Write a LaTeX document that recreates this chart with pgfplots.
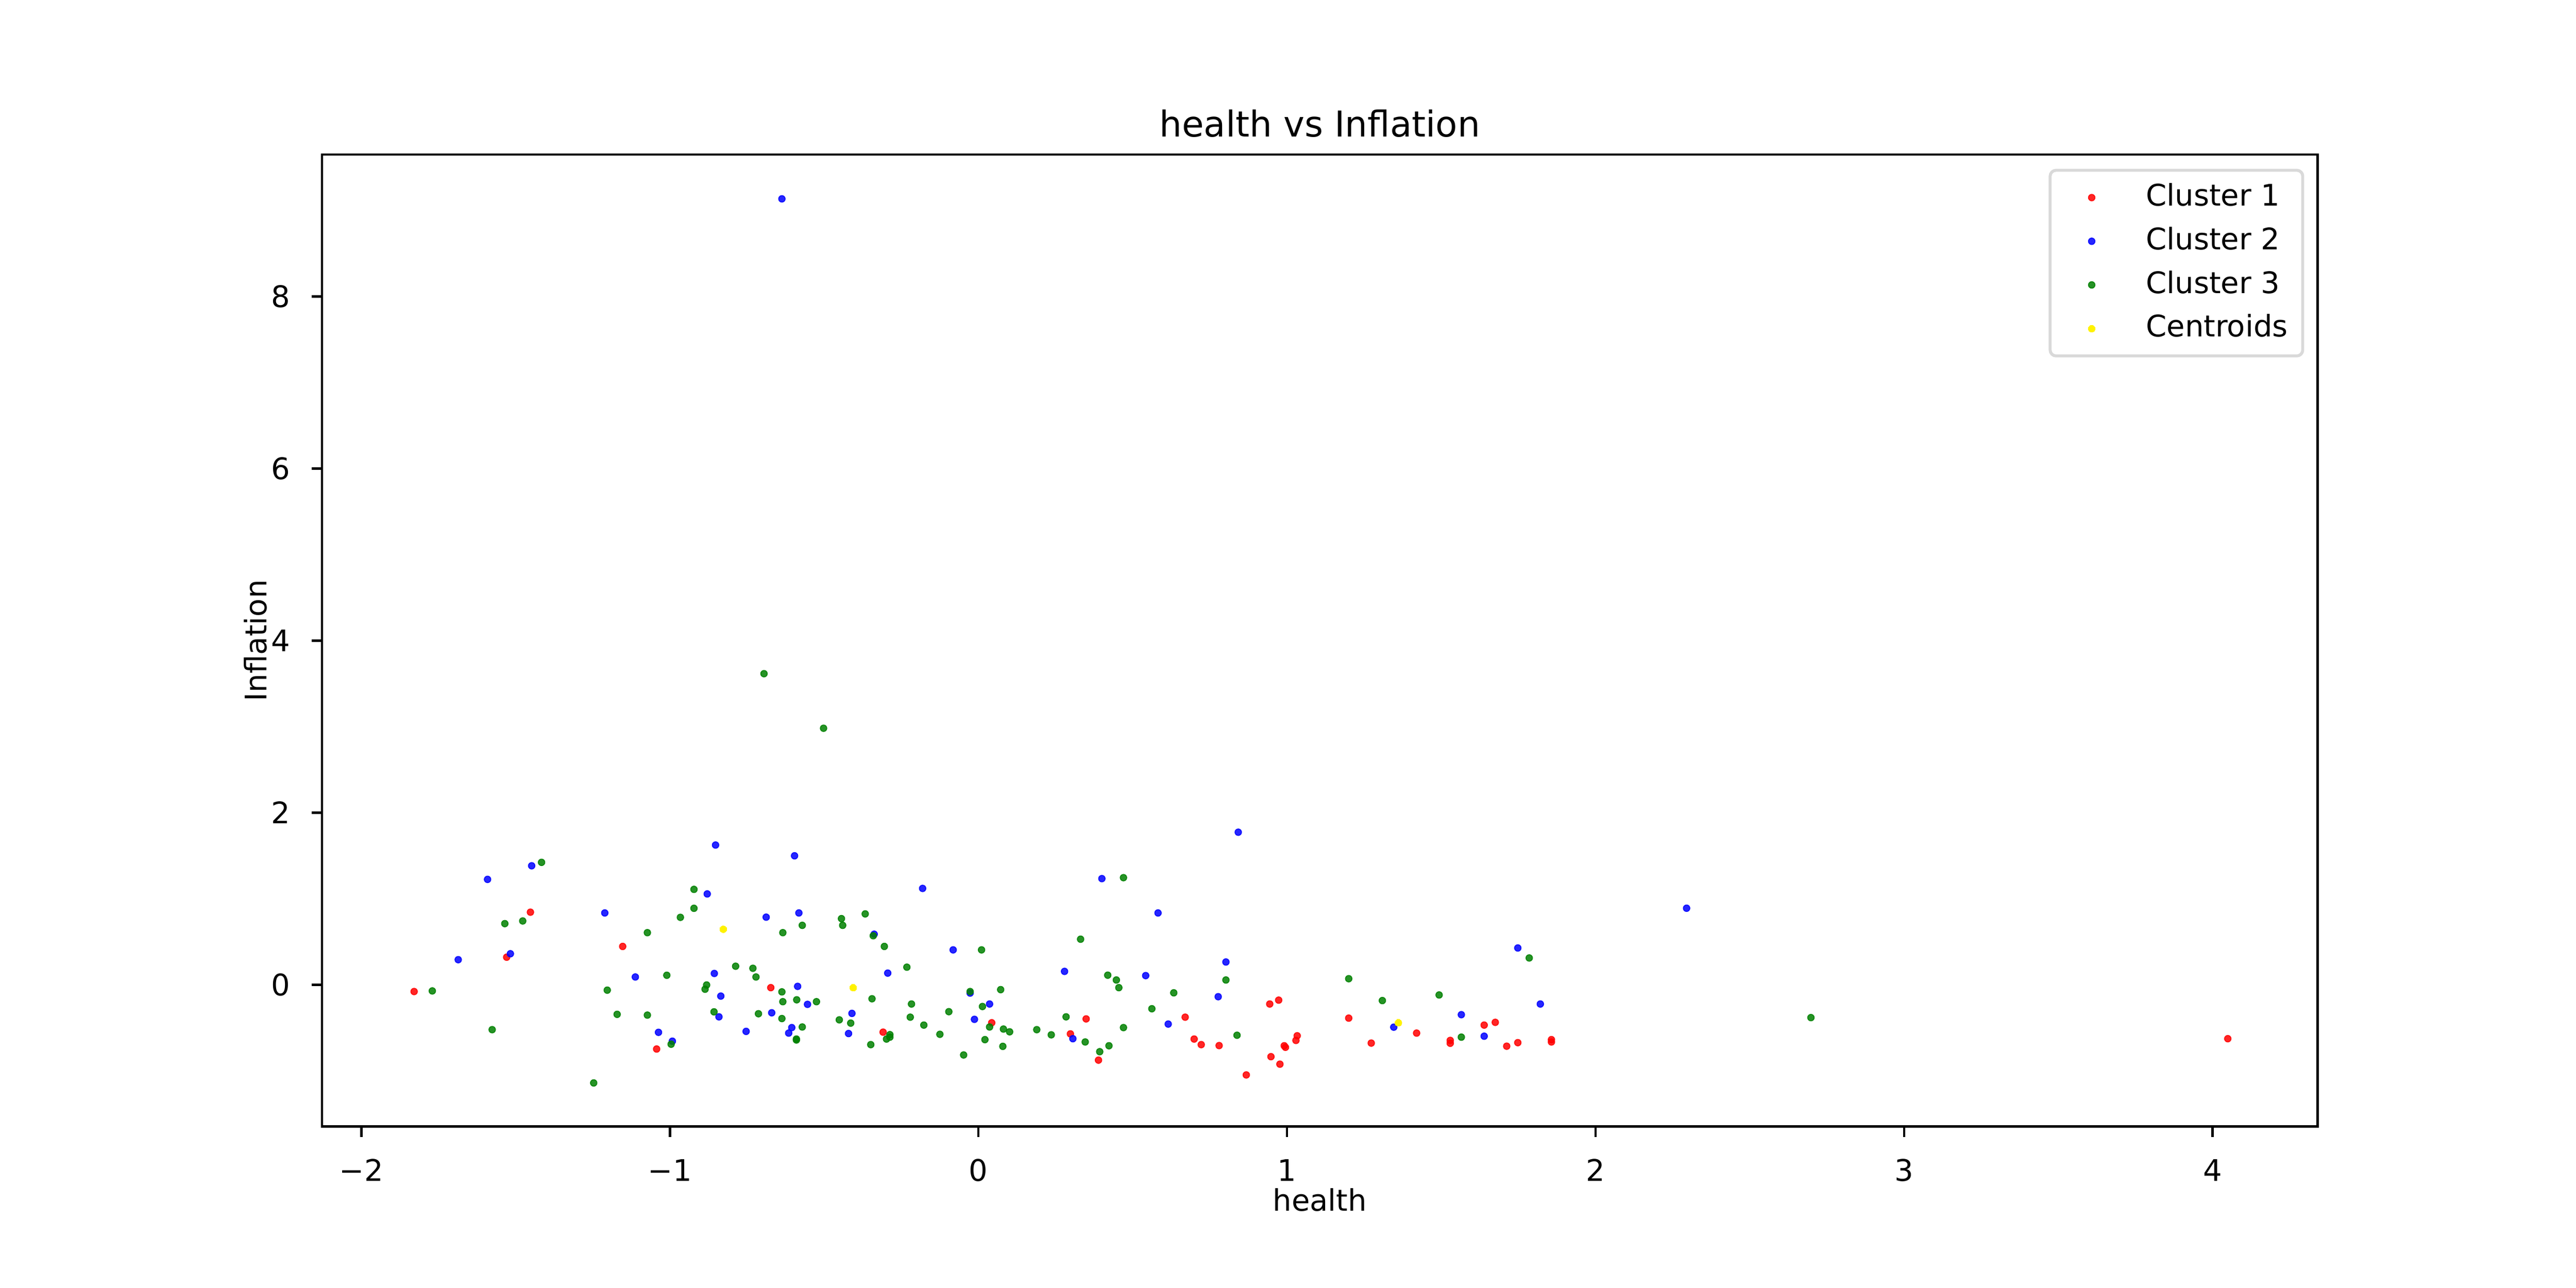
\documentclass[border=0pt]{standalone}
\usepackage{fontspec}
\setmainfont{DejaVu Sans}
\usepackage{pgfplots}
\pgfplotsset{compat=1.18}
\definecolor{mplgreen}{RGB}{0,128,0}
\definecolor{legframe}{RGB}{217,217,217}
\begin{document}
\begin{tikzpicture}
\path[use as bounding box] (0,0) rectangle (12in,6in);
\begin{axis}[
  at={(1.5in,0.752in)}, anchor=south west,
  width=9.296in, height=4.528in, scale only axis,
  xmin=-2.1275, xmax=4.340, ymin=-1.646, ymax=9.648,
  axis line style={line width=0.8pt},
  tick style={line width=0.8pt, black},
  tick align=outside, major tick length=3.5pt,
  xtick pos=left, ytick pos=left,
  xtick={-2,-1,0,1,2,3,4},
  xticklabels={−2,−1,0,1,2,3,4},
  ytick={0,2,4,6,8},
  yticklabels={0,2,4,6,8},
  xticklabel style={anchor=base, inner sep=0pt, yshift=-14.9pt},
  yticklabel style={anchor=east, inner sep=0pt, xshift=-7pt},
  every axis x label/.style={at={(axis description cs:0.5,0)}, anchor=base, yshift=-28.5pt},
  every axis y label/.style={at={(axis description cs:0,0.5)}, rotate=90, anchor=base, yshift=18.6pt},
  every axis title/.style={at={(axis description cs:0.5,1)}, anchor=base, yshift=6pt, font=\fontsize{12}{14}\selectfont},
  title={health vs Inflation},
  xlabel={health},
  ylabel={Inflation},
  legend cell align=left,
  legend image code/.code={\path[draw=none,fill=none] (0pt,-1pt) rectangle (18pt,1pt); \draw[mark repeat=2,mark phase=2,#1] plot coordinates {(0pt,0pt) (9pt,0pt) (18pt,0pt)};},
  legend style={at={(rel axis cs:1,1)}, anchor=north east, xshift=-4.5pt, yshift=-4.8pt,
    draw=legframe, line width=1pt, rounded corners=2pt, fill=white,
    inner xsep=5pt, inner ysep=4.4pt, row sep=5.1pt, column sep=9.3pt,
    nodes={inner sep=0pt, text height=7.6pt, text depth=2pt},
    font=\fontsize{10}{12}\selectfont},
]
\addplot[only marks, mark=*, mark size=1.1pt, mark options={fill=red, draw=red, line width=0.3pt, fill opacity=0.85, draw opacity=0.85}]
coordinates {
(-1.452,0.845) (-1.153,0.447) (-1.529,0.322) (-1.829,-0.077) (-1.043,-0.745)
(-0.673,-0.032) (-0.309,-0.549)
(0.944,-0.222) (0.973,-0.177) (0.349,-0.395) (0.670,-0.375) (0.043,-0.440) (0.298,-0.569) (0.389,-0.874) (0.699,-0.629) (0.722,-0.694) (0.780,-0.705) (0.868,-1.046) (0.948,-0.834) (0.977,-0.921) (0.991,-0.707) (0.995,-0.725)
(1.200,-0.386) (1.420,-0.560) (1.639,-0.467) (1.675,-0.435) (1.033,-0.591) (1.029,-0.645) (1.273,-0.676) (1.529,-0.645) (1.529,-0.678) (1.712,-0.712) (1.748,-0.671) (1.857,-0.636) (1.857,-0.663)
(4.049,-0.625)
};
\addlegendentry{Cluster 1}
\addplot[only marks, mark=*, mark size=1.1pt, mark options={fill=blue, draw=blue, line width=0.3pt, fill opacity=0.85, draw opacity=0.85}]
coordinates {
(-1.448,1.384) (-1.591,1.226) (-1.211,0.836) (-1.517,0.362) (-1.686,0.293) (-1.112,0.092) (-1.037,-0.551) (-0.992,-0.654)
(-0.852,1.625) (-0.596,1.500) (-0.879,1.057) (-0.181,1.121) (-0.688,0.787) (-0.582,0.836) (-0.338,0.589) (-0.082,0.407) (-0.856,0.133) (-0.294,0.137) (-0.586,-0.017) (-0.835,-0.130) (-0.554,-0.226) (-0.027,-0.095) (-0.841,-0.371) (-0.670,-0.324) (-0.410,-0.331) (-0.013,-0.400) (-0.605,-0.496) (-0.615,-0.560) (-0.753,-0.540) (-0.421,-0.565)
(0.842,1.774) (0.400,1.235) (0.582,0.836) (0.802,0.266) (0.279,0.157) (0.542,0.108) (0.777,-0.137) (0.036,-0.222) (0.615,-0.455) (0.306,-0.625)
(1.748,0.429) (1.821,-0.222) (1.565,-0.346) (1.346,-0.491) (1.639,-0.596)
(-0.637,9.133) (2.295,0.891)
};
\addlegendentry{Cluster 2}
\addplot[only marks, mark=*, mark size=1.1pt, mark options={fill=mplgreen, draw=mplgreen, line width=0.3pt, fill opacity=0.85, draw opacity=0.85}]
coordinates {
(-1.416,1.424) (-0.966,0.785) (-1.535,0.712) (-1.477,0.743) (-1.073,0.607) (-1.010,0.112) (-1.770,-0.070) (-1.203,-0.061) (-1.171,-0.342) (-1.073,-0.351) (-1.576,-0.520) (-0.996,-0.689) (-1.247,-1.139)
(-0.922,1.110) (-0.922,0.890) (-0.571,0.692) (-0.634,0.607) (-0.444,0.770) (-0.440,0.692) (-0.367,0.825) (-0.341,0.571) (-0.305,0.447) (0.010,0.407) (-0.787,0.217) (-0.731,0.193) (-0.721,0.092) (-0.232,0.206) (-0.881,-0.001) (-0.886,-0.050) (-0.637,-0.081) (-0.634,-0.195) (-0.589,-0.173) (-0.525,-0.195) (-0.345,-0.161) (-0.217,-0.222) (-0.027,-0.077) (0.013,-0.251) (-0.857,-0.313) (-0.713,-0.335) (-0.637,-0.391) (-0.451,-0.406) (-0.414,-0.444) (-0.221,-0.375) (-0.096,-0.311) (-0.571,-0.489) (-0.590,-0.629) (-0.590,-0.640) (-0.287,-0.578) (-0.287,-0.607) (-0.298,-0.629) (-0.349,-0.694) (-0.177,-0.467) (-0.125,-0.574) (-0.048,-0.814) (0.021,-0.636)
(0.470,1.246) (0.331,0.531) (0.419,0.113) (0.447,0.057) (0.455,-0.032) (0.802,0.057) (0.072,-0.055) (0.633,-0.092) (0.562,-0.277) (0.284,-0.371) (0.036,-0.489) (0.081,-0.513) (0.101,-0.545) (0.189,-0.520) (0.236,-0.580) (0.346,-0.663) (0.079,-0.714) (0.423,-0.707) (0.393,-0.776) (0.470,-0.496) (0.838,-0.585)
(1.785,0.313) (1.200,0.072) (1.309,-0.182) (1.493,-0.117) (1.565,-0.607)
(-0.695,3.616) (-0.502,2.982) (2.698,-0.380)
};
\addlegendentry{Cluster 3}
\addplot[only marks, mark=*, mark size=1.17pt, mark options={fill=yellow, draw=yellow, line width=0pt}]
coordinates {
(-0.827,0.647) (-0.406,-0.032) (1.361,-0.440)
};
\addlegendentry{Centroids}
\end{axis}
\end{tikzpicture}
\end{document}
